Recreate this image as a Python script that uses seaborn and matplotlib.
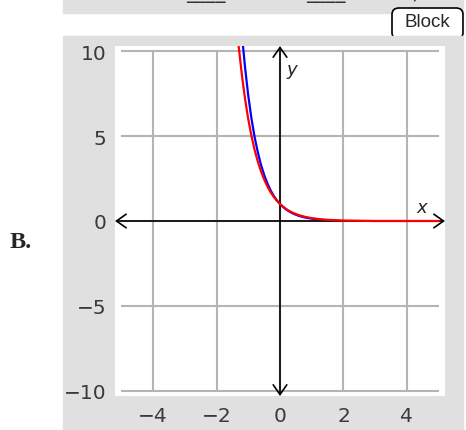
import seaborn as sns
import matplotlib.pyplot as plt
from matplotlib.patches import Rectangle, FancyBboxPatch

# values
red_x = [-1.4, -1.3, -1.2, -1.1, -1.0, -0.9, -0.8, -0.7, -0.6, -0.5, -0.4, -0.3, -0.2, -0.1,
         0.0, 0.1, 0.2, 0.3, 0.4, 0.5, 0.6, 0.8, 1.0, 1.2, 1.5, 2.0, 3.0, 5.0]
red_y = [12.3, 10.26, 8.59, 7.18, 6.0, 5.02, 4.19, 3.51, 2.93, 2.45, 2.05, 1.71, 1.43, 1.2,
         1.0, 0.84, 0.7, 0.58, 0.49, 0.41, 0.34, 0.24, 0.17, 0.12, 0.07, 0.03, 0.0, 0.0]
blue_x = [-1.2, -1.1, -1.0, -0.9, -0.8, -0.7, -0.6, -0.5, -0.4, -0.3, -0.2, -0.1,
          0.0, 0.1, 0.2, 0.3, 0.4, 0.5, 0.6, 0.8, 1.0, 1.15]
blue_y = [11.0, 9.03, 7.39, 6.05, 4.95, 4.06, 3.32, 2.72, 2.23, 1.82, 1.49, 1.22,
          1.0, 0.82, 0.67, 0.55, 0.45, 0.37, 0.3, 0.2, 0.14, 0.1]
x_ticks = [-4, -2, 0, 2, 4]
x_labels = ["\u22124", "\u22122", "0", "2", "4"]
y_ticks = [-10, -5, 0, 5, 10]
y_labels = ["\u221210", "\u22125", "0", "5", "10"]
x_lim = (-5.2, 5.2)
y_lim = (-10.32, 10.32)

sns.set_style("white")
plt.rcParams['font.family'] = ['DejaVu Sans']

W, H = 466, 431
fig = plt.figure(figsize=(W / 100, H / 100), dpi=100)
gray = '#e0e0e0'

# panels behind the chart
fig.add_artist(Rectangle((63 / W, 1 - 14 / H), 400 / W, 14 / H, transform=fig.transFigure,
                         color=gray, zorder=0))
fig.add_artist(FancyBboxPatch((392 / W, 1 - 40 / H), 71 / W, 31 / H, transform=fig.transFigure,
                              boxstyle="round,pad=0,rounding_size=0.015",
                              fc='white', ec='black', lw=1.2, zorder=1))
fig.add_artist(Rectangle((63 / W, 0), 400 / W, 1 - 37 / H, transform=fig.transFigure,
                         color=gray, zorder=2))
fig.text(427 / W, 1 - 22.5 / H, "Block", family='Liberation Sans', fontsize=13.5,
         ha='center', va='center', zorder=3)
# cut-off text of the row above (only its lowest strokes show)
for s, xp in [(",", 161), ("____", 186), (",", 282), ("____", 306), (")", 411)]:
    fig.text(xp / W, 1 + 2 / H, s, fontsize=14, color='#333333', ha='left',
             va='baseline', zorder=3)
fig.text(10 / W, 1 - 248 / H, "B.", family='Liberation Serif', fontweight='bold',
         fontsize=17.5, va='baseline')

ax = fig.add_axes([115 / W, 34 / H, 330 / W, 350 / H], zorder=5)
ax.set_facecolor('white')
ax.set_xlim(*x_lim)
ax.set_ylim(*y_lim)
for s in ax.spines.values():
    s.set_visible(False)

ax.vlines(x_ticks, y_ticks[0], y_ticks[-1], color='#b4b4b4', lw=1.5, zorder=1)
ax.hlines(y_ticks, -5, 5, color='#b4b4b4', lw=1.5, zorder=1)

arrow = dict(arrowstyle='<->,head_length=0.5,head_width=0.35', color='black', lw=1.2,
             mutation_scale=14, shrinkA=0, shrinkB=0)
ax.annotate('', xy=(x_lim[1], 0), xytext=(x_lim[0], 0), arrowprops=arrow, zorder=2)
ax.annotate('', xy=(0, y_lim[1]), xytext=(0, y_lim[0]), arrowprops=arrow, zorder=2)

sns.lineplot(x=blue_x, y=blue_y, color='blue', linewidth=1.6, ax=ax, zorder=3)
sns.lineplot(x=red_x, y=red_y, color='red', linewidth=1.6, ax=ax, zorder=4)

ax.text(4.47, 0.83, 'x', style='italic', fontsize=13, ha='center', va='center')
ax.text(0.38, 8.97, 'y', style='italic', fontsize=13, ha='center', va='center')

ax.set_xticks(x_ticks, x_labels)
ax.set_yticks(y_ticks, y_labels)
ax.tick_params(length=0, labelsize=14.5, colors='#3a3a3a')
ax.tick_params(axis='y', pad=6)
ax.tick_params(axis='x', pad=7)
ax.set_xlabel('')
ax.set_ylabel('')

fig.savefig('out.png', dpi=100)
